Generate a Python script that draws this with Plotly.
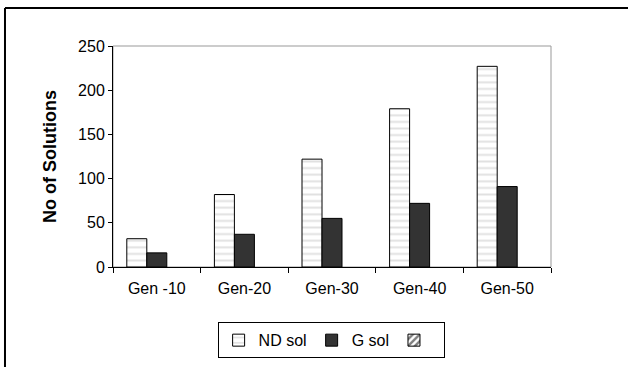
import plotly.graph_objects as go

categories = ["Gen -10", "Gen-20", "Gen-30", "Gen-40", "Gen-50"]
nd_sol = [32, 82, 122, 179, 227]
g_sol = [16, 37, 55, 72, 91]
third = [None, None, None, None, None]
y_ticks = [0, 50, 100, 150, 200, 250]

FONT = "Liberation Sans, Arial, sans-serif"

fig = go.Figure()
fig.add_trace(go.Bar(
    x=categories, y=nd_sol, name="ND sol",
    marker=dict(color="white", line=dict(color="black", width=1),
                pattern=dict(shape="-", fgcolor="#c4c4c4", bgcolor="white",
                             size=6.6, solidity=0.3)),
))
fig.add_trace(go.Bar(
    x=categories, y=g_sol, name="G sol",
    marker=dict(color="#333333", line=dict(color="black", width=1)),
))
fig.add_trace(go.Bar(
    x=categories, y=third, name=" ",
    marker=dict(color="white", line=dict(color="black", width=1),
                pattern=dict(shape="/", fgcolor="black", bgcolor="white",
                             size=6, solidity=0.5)),
))

fig.update_layout(
    width=628, height=367,
    margin=dict(l=113, r=77, t=46, b=100, autoexpand=False),
    paper_bgcolor="white", plot_bgcolor="white",
    barmode="group", bargap=0.315, bargroupgap=0,
    font=dict(family=FONT, size=16, color="black"),
    showlegend=True,
    legend=dict(orientation="h", x=0.498, xanchor="center", y=-0.25, yanchor="top",
                bordercolor="black", borderwidth=1, font=dict(size=16),
                itemwidth=30, tracegroupgap=0),
    xaxis=dict(showline=True, linecolor="black", linewidth=1, automargin=False,
               ticks="outside", tickson="boundaries", ticklen=5, tickcolor="black",
               ticklabelstandoff=7,
               showgrid=False, tickfont=dict(size=16)),
    yaxis=dict(range=[0, 250], tickvals=y_ticks, showline=True, linecolor="black",
               linewidth=1, ticks="outside", ticklen=4, tickcolor="black", automargin=False,
               showgrid=False, zeroline=False, tickfont=dict(size=16),
               title=dict(text="<b>No of Solutions</b>", font=dict(size=18), standoff=16)),
    shapes=[
        dict(type="rect", xref="paper", yref="paper", x0=0, x1=1, y0=0, y1=1,
             line=dict(color="#999999", width=1), layer="below"),
        dict(type="line", xref="paper", yref="paper", x0=-0.2466, x1=1.2, y0=1.172, y1=1.172,
             line=dict(color="black", width=2)),
        dict(type="line", xref="paper", yref="paper", x0=-0.2466, x1=-0.2466, y0=1.172, y1=-0.5,
             line=dict(color="black", width=2)),
    ],
)

fig.write_html("out.html")
